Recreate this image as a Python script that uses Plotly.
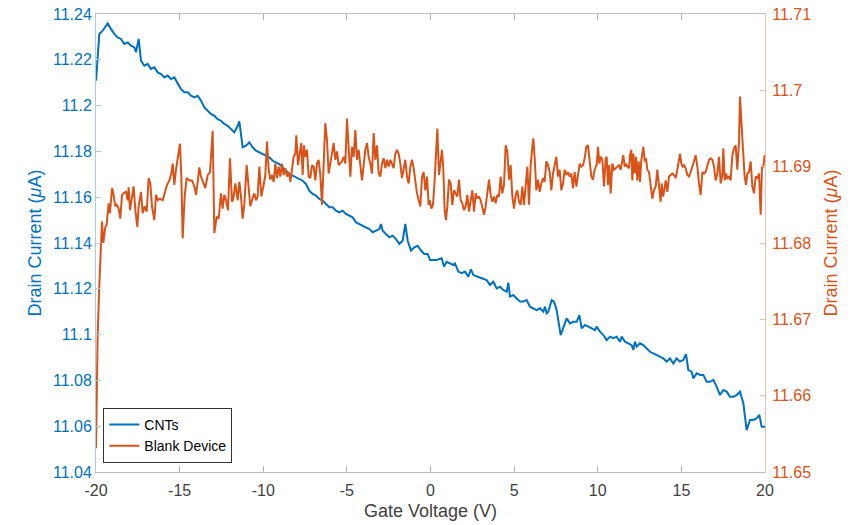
import plotly.graph_objects as go

# ---------------- data ----------------
cnt_v = [-20.000, -19.801, -19.601, -19.302, -19.103, -18.904, -18.705, -18.505, -18.306, -18.107,
         -17.907, -17.708, -17.608, -17.449, -17.309, -17.110, -16.911, -16.711, -16.512, -16.313,
         -16.114, -15.914, -15.715, -15.516, -15.316, -15.117, -14.918, -14.718, -14.519, -14.320,
         -14.121, -13.921, -13.722, -13.523, -13.323, -13.124, -12.925, -12.725, -12.526, -12.327,
         -12.127, -11.928, -11.729, -11.530, -11.430, -11.231, -11.031, -10.832, -10.633, -10.433,
         -10.234, -10.035, -9.836, -9.636, -9.437, -9.238, -9.038, -8.839, -8.640, -8.440,
         -8.241, -8.042, -7.843, -7.643, -7.444, -7.245, -7.045, -6.846, -6.647, -6.447,
         -6.248, -6.049, -5.850, -5.650, -5.451, -5.252, -5.052, -4.853, -4.654, -4.454,
         -4.255, -4.056, -3.856, -3.657, -3.458, -3.259, -3.059, -2.960, -2.860, -2.661,
         -2.461, -2.262, -2.063, -1.863, -1.664, -1.505, -1.365, -1.166, -0.967, -0.767,
         -0.568, -0.369, -0.170, -0.030, 0.369, 0.668, 0.807, 0.967, 1.166, 1.365,
         1.465, 1.664, 1.863, 2.063, 2.262, 2.421, 2.561, 2.760, 3.059, 3.358,
         3.557, 3.757, 3.956, 4.155, 4.355, 4.554, 4.654, 4.753, 4.953, 5.152,
         5.351, 5.551, 5.750, 5.949, 6.148, 6.348, 6.547, 6.746, 6.846, 6.946,
         7.045, 7.245, 7.384, 7.544, 7.783, 7.942, 8.141, 8.341, 8.540, 8.739,
         8.899, 9.038, 9.238, 9.437, 9.636, 9.836, 9.935, 10.134, 10.334, 10.533,
         10.732, 10.932, 11.131, 11.330, 11.430, 11.629, 11.828, 12.028, 12.127, 12.227,
         12.327, 12.526, 12.725, 12.925, 13.124, 13.323, 13.523, 13.722, 13.921, 14.121,
         14.320, 14.519, 14.719, 14.918, 15.117, 15.277, 15.416, 15.615, 15.715, 15.914,
         16.114, 16.313, 16.512, 16.712, 16.911, 17.110, 17.309, 17.509, 17.708, 17.907,
         18.107, 18.306, 18.505, 18.705, 18.904, 19.103, 19.303, 19.502, 19.661, 19.801,
         20.000]
cnt_i = [11.2109, 11.2313, 11.2327, 11.2359, 11.2334, 11.2313, 11.2298, 11.2291, 11.2269, 11.2276,
         11.2262, 11.2254, 11.2233, 11.2291, 11.2196, 11.2174, 11.2182, 11.2160, 11.2167, 11.2145,
         11.2138, 11.2123, 11.2131, 11.2116, 11.2123, 11.2094, 11.2072, 11.2058, 11.2058, 11.2043,
         11.2036, 11.2043, 11.2022, 11.1992, 11.1978, 11.1963, 11.1956, 11.1941, 11.1934, 11.1920,
         11.1912, 11.1898, 11.1883, 11.1912, 11.1931, 11.1818, 11.1825, 11.1840, 11.1818, 11.1803,
         11.1796, 11.1789, 11.1781, 11.1774, 11.1759, 11.1752, 11.1745, 11.1730, 11.1716, 11.1701,
         11.1694, 11.1687, 11.1679, 11.1672, 11.1657, 11.1628, 11.1614, 11.1607, 11.1592, 11.1585,
         11.1570, 11.1556, 11.1556, 11.1541, 11.1534, 11.1541, 11.1527, 11.1519, 11.1512, 11.1490,
         11.1483, 11.1476, 11.1468, 11.1461, 11.1447, 11.1454, 11.1461, 11.1483, 11.1454, 11.1439,
         11.1425, 11.1432, 11.1417, 11.1396, 11.1410, 11.1483, 11.1410, 11.1367, 11.1381, 11.1388,
         11.1367, 11.1352, 11.1352, 11.1326, 11.1326, 11.1333, 11.1297, 11.1318, 11.1311, 11.1304,
         11.1311, 11.1275, 11.1268, 11.1275, 11.1253, 11.1285, 11.1260, 11.1253, 11.1246, 11.1238,
         11.1217, 11.1231, 11.1202, 11.1209, 11.1195, 11.1187, 11.1227, 11.1166, 11.1173, 11.1158,
         11.1144, 11.1144, 11.1151, 11.1122, 11.1115, 11.1107, 11.1115, 11.1100, 11.1122, 11.1093,
         11.1100, 11.1151, 11.1144, 11.1107, 11.0998, 11.1035, 11.1071, 11.1049, 11.1056, 11.1056,
         11.1085, 11.1027, 11.1042, 11.1035, 11.1027, 11.1020, 11.1035, 11.1013, 11.0998, 11.0976,
         11.0991, 11.0984, 11.0991, 11.0969, 11.0991, 11.0969, 11.0962, 11.0954, 11.0933, 11.0969,
         11.0947, 11.0962, 11.0954, 11.0940, 11.0925, 11.0918, 11.0911, 11.0903, 11.0896, 11.0882,
         11.0896, 11.0874, 11.0896, 11.0882, 11.0889, 11.0915, 11.0845, 11.0838, 11.0809, 11.0831,
         11.0824, 11.0824, 11.0794, 11.0794, 11.0802, 11.0773, 11.0736, 11.0758, 11.0751, 11.0729,
         11.0729, 11.0736, 11.0751, 11.0700, 11.0583, 11.0627, 11.0627, 11.0634, 11.0649, 11.0598,
         11.0598]

blank_v = [-20.000, -19.900, -19.800, -19.641, -19.562, -19.442, -19.362, -19.243, -19.163, -19.043,
           -18.964, -18.844, -18.764, -18.645, -18.545, -18.445, -18.306, -18.206, -18.107, -18.047,
           -17.967, -17.848, -17.748, -17.648, -17.529, -17.449, -17.309, -17.210, -17.090, -16.971,
           -16.851, -16.751, -16.652, -16.512, -16.413, -16.293, -16.173, -16.014, -15.894, -15.755,
           -15.615, -15.496, -15.416, -15.316, -15.217, -15.097, -14.978, -14.898, -14.818, -14.699,
           -14.579, -14.420, -14.260, -14.121, -14.021, -13.921, -13.822, -13.722, -13.583, -13.463,
           -13.323, -13.184, -13.024, -12.925, -12.785, -12.666, -12.526, -12.427, -12.327, -12.227,
           -12.108, -11.988, -11.868, -11.789, -11.669, -11.530, -11.430, -11.330, -11.231, -11.131,
           -10.992, -10.872, -10.772, -10.673, -10.533, -10.433, -10.334, -10.234, -10.115, -9.995,
           -9.876, -9.776, -9.676, -9.577, -9.477, -9.377, -9.278, -9.178, -9.078, -8.979,
           -8.879, -8.780, -8.680, -8.580, -8.481, -8.381, -8.281, -8.182, -8.082, -8.022,
           -7.923, -7.843, -7.723, -7.644, -7.564, -7.484, -7.384, -7.285, -7.185, -7.085,
           -6.986, -6.886, -6.787, -6.687, -6.587, -6.488, -6.388, -6.288, -6.189, -6.089,
           -5.989, -5.890, -5.790, -5.690, -5.591, -5.491, -5.391, -5.292, -5.192, -5.092,
           -4.993, -4.893, -4.793, -4.694, -4.594, -4.494, -4.395, -4.295, -4.196, -4.096,
           -3.996, -3.897, -3.797, -3.697, -3.598, -3.498, -3.398, -3.299, -3.199, -3.099,
           -3.000, -2.900, -2.800, -2.701, -2.601, -2.501, -2.402, -2.302, -2.202, -2.103,
           -2.003, -1.904, -1.804, -1.704, -1.605, -1.505, -1.405, -1.306, -1.206, -1.106,
           -1.007, -0.907, -0.807, -0.708, -0.608, -0.508, -0.409, -0.309, -0.209, -0.110,
           -0.050, 0.050, 0.149, 0.249, 0.349, 0.409, 0.508, 0.608, 0.688, 0.767,
           0.847, 0.927, 1.006, 1.106, 1.206, 1.305, 1.405, 1.505, 1.604, 1.704,
           1.804, 1.903, 2.003, 2.103, 2.202, 2.302, 2.402, 2.501, 2.601, 2.700,
           2.800, 2.900, 2.999, 3.099, 3.199, 3.298, 3.398, 3.498, 3.597, 3.697,
           3.797, 3.896, 3.996, 4.096, 4.195, 4.295, 4.395, 4.494, 4.594, 4.694,
           4.793, 4.893, 4.993, 5.092, 5.192, 5.291, 5.391, 5.491, 5.590, 5.690,
           5.790, 5.889, 5.989, 6.089, 6.148, 6.228, 6.328, 6.427, 6.527, 6.627,
           6.726, 6.826, 6.926, 7.025, 7.125, 7.225, 7.324, 7.424, 7.524, 7.623,
           7.723, 7.823, 7.922, 8.022, 8.122, 8.221, 8.321, 8.420, 8.520, 8.620,
           8.719, 8.819, 8.919, 9.018, 9.118, 9.218, 9.317, 9.417, 9.517, 9.616,
           9.716, 9.816, 9.915, 9.935, 10.015, 10.095, 10.175, 10.274, 10.374, 10.474,
           10.533, 10.613, 10.693, 10.773, 10.872, 10.972, 11.071, 11.171, 11.271, 11.370,
           11.470, 11.530, 11.610, 11.689, 11.769, 11.869, 11.928, 12.008, 12.068, 12.128,
           12.207, 12.287, 12.367, 12.447, 12.526, 12.606, 12.726, 12.805, 12.885, 12.965,
           13.065, 13.164, 13.264, 13.363, 13.463, 13.563, 13.662, 13.762, 13.822, 13.902,
           13.981, 14.061, 14.161, 14.260, 14.360, 14.460, 14.559, 14.659, 14.759, 14.858,
           14.918, 14.998, 15.077, 15.157, 15.257, 15.356, 15.456, 15.556, 15.655, 15.755,
           15.855, 15.954, 16.054, 16.154, 16.253, 16.353, 16.453, 16.552, 16.652, 16.752,
           16.851, 16.951, 17.050, 17.150, 17.250, 17.349, 17.449, 17.509, 17.589, 17.668,
           17.748, 17.848, 17.947, 18.047, 18.147, 18.246, 18.346, 18.446, 18.505, 18.605,
           18.705, 18.784, 18.864, 18.944, 19.043, 19.143, 19.243, 19.343, 19.442, 19.542,
           19.642, 19.741, 19.821, 19.901, 19.980]
blank_i = [11.6531, 11.6680, 11.6745, 11.6828, 11.6800, 11.6821, 11.6824, 11.6852, 11.6839, 11.6872,
           11.6865, 11.6848, 11.6850, 11.6845, 11.6832, 11.6863, 11.6866, 11.6867, 11.6856, 11.6873,
           11.6843, 11.6858, 11.6874, 11.6843, 11.6821, 11.6848, 11.6867, 11.6839, 11.6848, 11.6841,
           11.6885, 11.6878, 11.6848, 11.6830, 11.6863, 11.6856, 11.6858, 11.6856, 11.6867, 11.6876,
           11.6882, 11.6891, 11.6904, 11.6876, 11.6896, 11.6913, 11.6930, 11.6887, 11.6806, 11.6861,
           11.6885, 11.6882, 11.6882, 11.6874, 11.6863, 11.6880, 11.6899, 11.6887, 11.6880, 11.6872,
           11.6889, 11.6893, 11.6947, 11.6813, 11.6834, 11.6832, 11.6865, 11.6845, 11.6863, 11.6856,
           11.6843, 11.6911, 11.6854, 11.6858, 11.6878, 11.6856, 11.6880, 11.6861, 11.6832, 11.6850,
           11.6902, 11.6865, 11.6848, 11.6856, 11.6865, 11.6856, 11.6861, 11.6900, 11.6861, 11.6874,
           11.6889, 11.6933, 11.6896, 11.6883, 11.6889, 11.6880, 11.6904, 11.6885, 11.6900, 11.6887,
           11.6904, 11.6889, 11.6898, 11.6887, 11.6893, 11.6880, 11.6898, 11.6913, 11.6917, 11.6941,
           11.6902, 11.6913, 11.6931, 11.6889, 11.6928, 11.6913, 11.6922, 11.6887, 11.6885, 11.6902,
           11.6900, 11.6882, 11.6904, 11.6909, 11.6889, 11.6850, 11.6915, 11.6957, 11.6935, 11.6891,
           11.6904, 11.6920, 11.6931, 11.6909, 11.6920, 11.6902, 11.6904, 11.6907, 11.6913, 11.6904,
           11.6963, 11.6928, 11.6887, 11.6926, 11.6913, 11.6948, 11.6909, 11.6922, 11.6900, 11.6882,
           11.6902, 11.6922, 11.6931, 11.6913, 11.6904, 11.6891, 11.6944, 11.6909, 11.6928, 11.6891,
           11.6887, 11.6904, 11.6911, 11.6898, 11.6909, 11.6900, 11.6909, 11.6902, 11.6898, 11.6917,
           11.6922, 11.6917, 11.6904, 11.6885, 11.6900, 11.6909, 11.6887, 11.6878, 11.6900, 11.6909,
           11.6898, 11.6880, 11.6865, 11.6856, 11.6848, 11.6887, 11.6893, 11.6869, 11.6887, 11.6850,
           11.6856, 11.6845, 11.6850, 11.6883, 11.6917, 11.6950, 11.6889, 11.6904, 11.6922, 11.6896,
           11.6843, 11.6830, 11.6848, 11.6883, 11.6878, 11.6850, 11.6869, 11.6865, 11.6861, 11.6883,
           11.6856, 11.6852, 11.6843, 11.6848, 11.6863, 11.6841, 11.6856, 11.6869, 11.6841, 11.6865,
           11.6858, 11.6861, 11.6856, 11.6845, 11.6837, 11.6848, 11.6865, 11.6883, 11.6863, 11.6854,
           11.6861, 11.6852, 11.6863, 11.6861, 11.6887, 11.6865, 11.6876, 11.6928, 11.6920, 11.6883,
           11.6902, 11.6861, 11.6845, 11.6863, 11.6869, 11.6854, 11.6850, 11.6874, 11.6850, 11.6874,
           11.6900, 11.6850, 11.6902, 11.6926, 11.6937, 11.6911, 11.6869, 11.6883, 11.6867, 11.6878,
           11.6885, 11.6880, 11.6907, 11.6902, 11.6893, 11.6869, 11.6891, 11.6902, 11.6913, 11.6887,
           11.6896, 11.6869, 11.6878, 11.6896, 11.6889, 11.6893, 11.6887, 11.6891, 11.6872, 11.6893,
           11.6874, 11.6889, 11.6904, 11.6900, 11.6902, 11.6911, 11.6926, 11.6928, 11.6909, 11.6887,
           11.6883, 11.6896, 11.6902, 11.6902, 11.6926, 11.6904, 11.6913, 11.6909, 11.6874, 11.6911,
           11.6913, 11.6876, 11.6902, 11.6865, 11.6904, 11.6896, 11.6898, 11.6900, 11.6902, 11.6896,
           11.6907, 11.6915, 11.6900, 11.6904, 11.6900, 11.6898, 11.6915, 11.6922, 11.6882, 11.6917,
           11.6891, 11.6913, 11.6882, 11.6907, 11.6880, 11.6909, 11.6926, 11.6907, 11.6911, 11.6896,
           11.6893, 11.6876, 11.6858, 11.6869, 11.6874, 11.6896, 11.6871, 11.6854, 11.6878, 11.6861,
           11.6869, 11.6882, 11.6867, 11.6887, 11.6889, 11.6891, 11.6889, 11.6885, 11.6896, 11.6907,
           11.6917, 11.6904, 11.6900, 11.6902, 11.6898, 11.6889, 11.6887, 11.6893, 11.6902, 11.6907,
           11.6915, 11.6900, 11.6878, 11.6863, 11.6893, 11.6891, 11.6893, 11.6902, 11.6909, 11.6911,
           11.6909, 11.6900, 11.6882, 11.6891, 11.6913, 11.6878, 11.6889, 11.6924, 11.6882, 11.6891,
           11.6885, 11.6887, 11.6882, 11.6915, 11.6924, 11.6928, 11.6896, 11.6933, 11.6992, 11.6952,
           11.6909, 11.6887, 11.6876, 11.6891, 11.6893, 11.6907, 11.6874, 11.6865, 11.6887, 11.6885,
           11.6891, 11.6837, 11.6900, 11.6900, 11.6915]

x_ticks = [-20, -15, -10, -5, 0, 5, 10, 15, 20]
x_tick_labels = ["-20", "-15", "-10", "-5", "0", "5", "10", "15", "20"]
y1_ticks = [11.04, 11.06, 11.08, 11.10, 11.12, 11.14, 11.16, 11.18, 11.20, 11.22, 11.24]
y1_tick_labels = ["11.04", "11.06", "11.08", "11.1", "11.12", "11.14", "11.16", "11.18", "11.2", "11.22", "11.24"]
y2_ticks = [11.65, 11.66, 11.67, 11.68, 11.69, 11.70, 11.71]
y2_tick_labels = ["11.65", "11.66", "11.67", "11.68", "11.69", "11.7", "11.71"]

BLUE = "#0072BD"
ORANGE = "#D95319"
FONT = "Liberation Sans, Arial, Helvetica, sans-serif"

fig = go.Figure()
fig.add_trace(go.Scatter(x=cnt_v, y=cnt_i, mode="lines", name="CNTs",
                         line=dict(color=BLUE, width=2), yaxis="y"))
fig.add_trace(go.Scatter(x=blank_v, y=blank_i, mode="lines", name="Blank Device",
                         line=dict(color=ORANGE, width=2), yaxis="y2"))

fig.update_layout(
    width=853, height=525,
    margin=dict(l=96, r=88, t=14, b=53),
    paper_bgcolor="white", plot_bgcolor="white",
    font=dict(family=FONT, size=16, color="#404040"),
    showlegend=True,
    legend=dict(x=0.011, y=0.02, xanchor="left", yanchor="bottom",
                bgcolor="white", bordercolor="#333333", borderwidth=1,
                font=dict(family=FONT, size=14, color="#000000"),
                tracegroupgap=0, itemwidth=30),
    xaxis=dict(range=[-20, 20], tickvals=x_ticks, ticktext=x_tick_labels,
               ticks="inside", ticklen=6, tickcolor="#b0b0b0", tickwidth=1,
               showline=True, linecolor="#bdbdbd", linewidth=1, mirror="ticks",
               showgrid=False, zeroline=False, automargin=False,
               ticklabelstandoff=4,
               tickfont=dict(size=16, color="#404040"),
               title=dict(text="Gate Voltage (V)", font=dict(size=18, color="#404040"), standoff=6)),
    yaxis=dict(range=[11.04, 11.24], tickvals=y1_ticks, ticktext=y1_tick_labels,
               ticks="inside", ticklen=5, tickcolor="#a8cde9", tickwidth=1,
               showline=True, linecolor="#a8cde9", linewidth=1,
               showgrid=False, zeroline=False, automargin=False,
               tickfont=dict(size=16, color=BLUE),
               title=dict(text="Drain Current (<i>μ</i>A)", font=dict(size=18, color=BLUE), standoff=6)),
    yaxis2=dict(range=[11.65, 11.71], tickvals=y2_ticks, ticktext=y2_tick_labels,
                overlaying="y", side="right",
                ticks="inside", ticklen=5, tickcolor="#f2bda6", tickwidth=1,
                showline=True, linecolor="#f2bda6", linewidth=1,
                showgrid=False, zeroline=False, automargin=False,
                ticklabelstandoff=3,
                tickfont=dict(size=16, color=ORANGE),
                title=dict(text="Drain Current (<i>μ</i>A)", font=dict(size=18, color=ORANGE), standoff=14)),
)

fig.write_html("out.html")
